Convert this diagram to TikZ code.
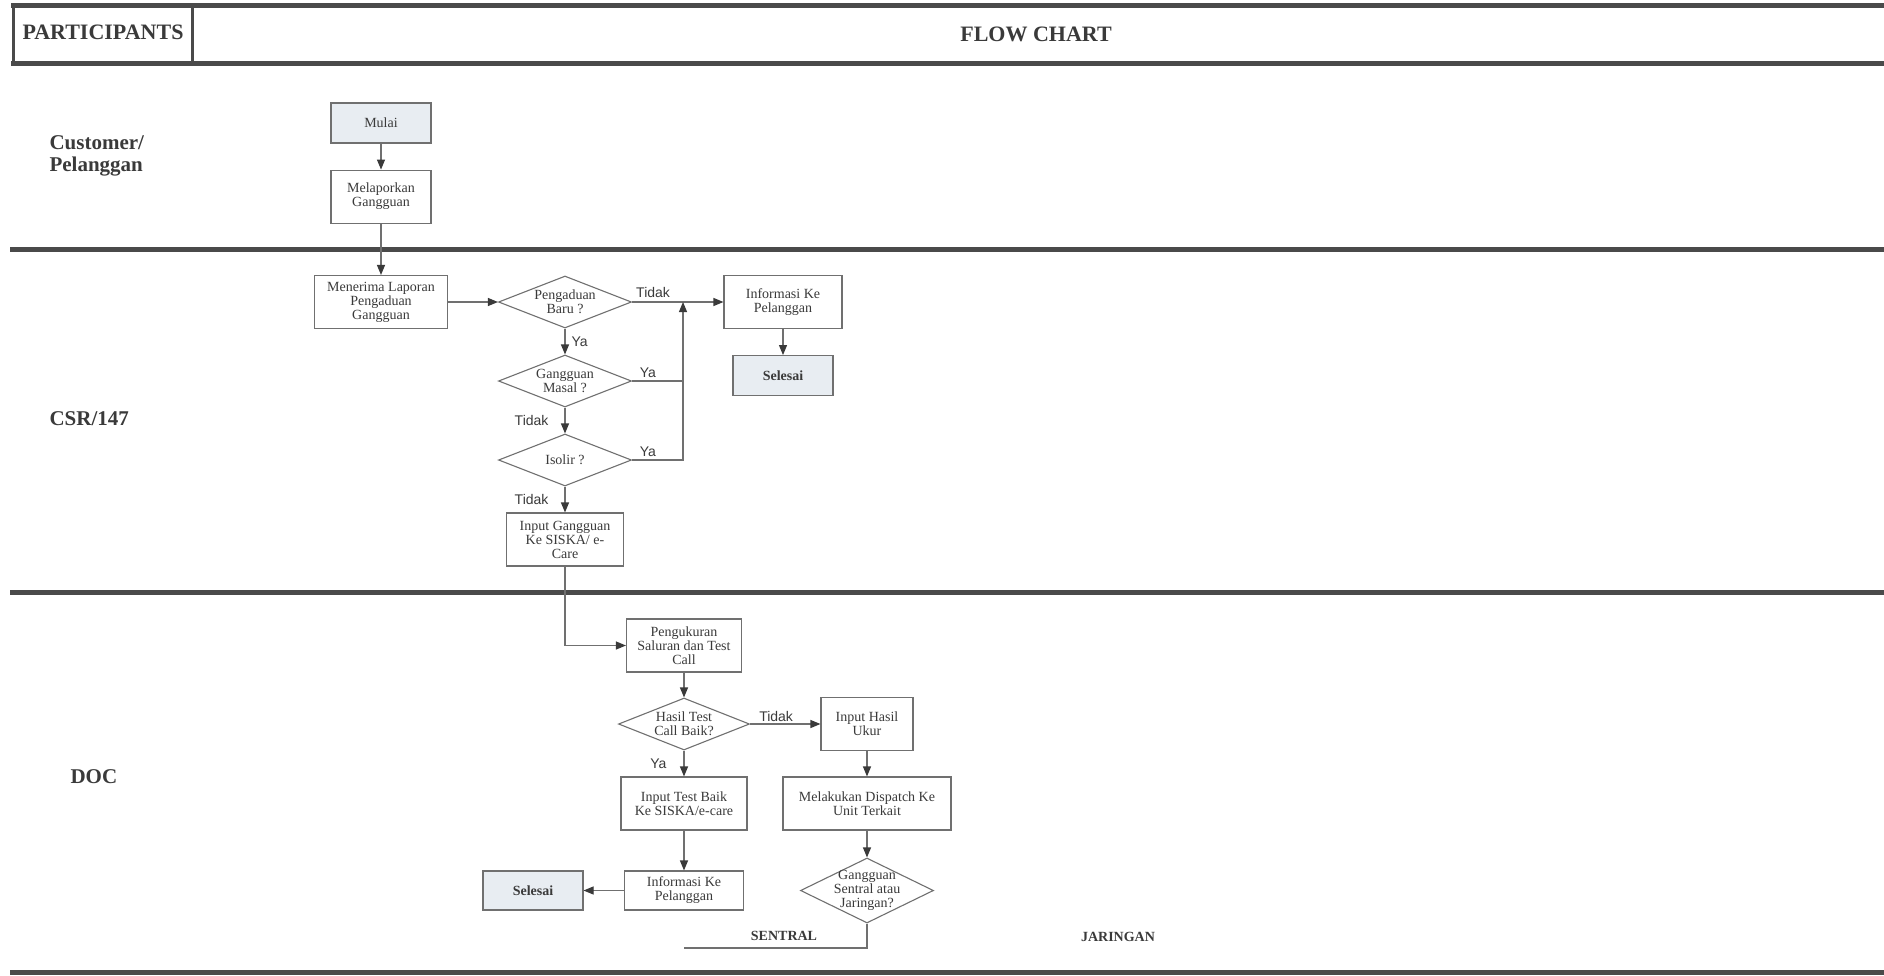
\documentclass[tikz,border=0pt]{standalone}
\usepackage{fontspec}
\setmainfont{Liberation Serif}
\newfontfamily\lblfont{Liberation Sans}
\usepackage{tikz}
\usetikzlibrary{arrows.meta,positioning,shapes.geometric}
\definecolor{fcink}{HTML}{3A3A3A}
\definecolor{fcline}{HTML}{707070}
\definecolor{fcrule}{HTML}{4A4A4A}
\definecolor{fcfill}{HTML}{E8EDF2}

\begin{document}
\begin{tikzpicture}[x=1pt,y=-1pt,
  every node/.style={text=fcink,align=center},
  box/.style={draw=fcline,line width=1.1pt,minimum height=53pt,inner sep=1pt,font=\fontsize{14}{14}\selectfont},
  endbox/.style={box,fill=fcfill,minimum width=100pt,minimum height=40pt},
  dec/.style={diamond,draw=fcline,line width=1.1pt,minimum width=133pt,minimum height=52pt,inner sep=0pt},
  dtext/.style={align=center,inner sep=0pt,text=fcink,font=\fontsize{14}{14}\selectfont},
  arr/.style={draw=fcline,line width=1.1pt,-{Triangle[length=10pt,width=8pt,color=fcink]}},
  conn/.style={draw=fcline,line width=1.1pt},
  lab/.style={font=\lblfont\fontsize{14}{14}\selectfont,inner sep=0pt},
  rule/.style={draw=fcrule,line width=5pt},
  lane/.style={font=\bfseries\fontsize{21}{22}\selectfont,anchor=west,align=left},
  ttl/.style={font=\bfseries\fontsize{22}{22}\selectfont}
]
\fill[white] (0,0) rectangle (1884,975);
\useasboundingbox (0,0) rectangle (1884,975);

\draw[rule] (11,5) -- (1884,5);
\draw[rule] (11,63) -- (1884,63);
\draw[draw=fcrule,line width=3pt] (13,5) -- (13,63) (192,5) -- (192,63);
\node[ttl] (partc) at (103,32) {PARTICIPANTS};
\node[ttl] (flowc) at (1036,34) {FLOW CHART};

\draw[rule] (10,249) -- (1884,249);
\draw[rule] (10,592) -- (1884,592);
\draw[rule] (10,972) -- (1884,972);
\node[lane] (cust) at (46,156) {Customer/\\Pelanggan};
\node[lane] (csr) at (46,419) {CSR/147};
\node[lane] (doc) at (67,777) {DOC};

\node[endbox] (mulai) at (381,123) {Mulai};
\node[box,minimum width=100pt,below=26pt of mulai] (lapor) {Melaporkan\\Gangguan};
\node[box,minimum width=133pt] (terima) at (381,302) {Menerima Laporan\\Pengaduan\\Gangguan};
\node[dec,label={[dtext]center:{Pengaduan\\Baru ?}}] (baru) at (565,302) {};
\node[box,minimum width=118pt] (info1) at (783,302) {Informasi Ke\\Pelanggan};
\node[endbox,font=\bfseries\fontsize{14}{14}\selectfont,below=26pt of info1] (selesai1) {Selesai};
\node[dec,label={[dtext]center:{Gangguan\\Masal ?}}] (masal) at (565,381) {};
\node[dec,label={[dtext]center:{Isolir ?}}] (isolir) at (565,460) {};
\node[box,minimum width=117pt] (inputg) at (565,539.5) {Input Gangguan\\Ke SISKA/ e-\\Care};
\coordinate (jn) at (683,302);

\node[box,minimum width=115pt] (ukur) at (684,645.5) {Pengukuran\\Saluran dan Test\\Call};
\node[dec,minimum width=131pt,label={[dtext]center:{Hasil Test\\Call Baik?}}] (hasil) at (684,724) {};
\node[box,minimum width=92pt] (inhasil) at (867,724) {Input Hasil\\Ukur};
\node[box,minimum width=126pt] (tbaik) at (684,803.5) {Input Test Baik\\Ke SISKA/e-care};
\node[box,minimum width=168pt] (dispatch) at (867,803.5) {Melakukan Dispatch Ke\\Unit Terkait};
\node[box,minimum width=119pt,minimum height=39pt] (info2) at (684,890.5) {Informasi Ke\\Pelanggan};
\node[endbox,minimum height=39pt,font=\bfseries\fontsize{14}{14}\selectfont] (selesai2) at (533,890.5) {Selesai};
\node[dec,minimum height=65pt,label={[dtext]center:{Gangguan\\Sentral atau\\Jaringan?}}] (sentral) at (867,890.5) {};
\coordinate (sntend) at (684,948);
\node[font=\bfseries\fontsize{14}{14}\selectfont] (sntlbl) at (784,936) {SENTRAL};
\node[font=\bfseries\fontsize{14}{14}\selectfont] (jrglbl) at (1118,937) {JARINGAN};

\draw[arr] (mulai) -- (lapor);
\draw[arr] (lapor) -- (terima);
\draw[arr] (terima) -- (baru);
\draw[arr] (baru) -- node[lab,pos=0.23,above=4pt] (tdk1) {Tidak} (info1);
\draw[arr] (baru) -- node[lab,right=6pt] (ya1) {Ya} (masal);
\draw[arr] (masal) -- node[lab,left=16pt] (tdk2) {Tidak} (isolir);
\draw[arr] (isolir) -- node[lab,left=16pt] (tdk3) {Tidak} (inputg);
\draw[conn] (masal.east) -- node[lab,pos=0.31,above=3pt] (ya2) {Ya} (masal.east -| jn);
\draw[arr] (isolir.east) -- node[lab,pos=0.31,above=3pt] (ya3) {Ya} (isolir.east -| jn) -- (jn);
\draw[arr] (info1) -- (selesai1);
\draw[arr] (inputg.south) |- (ukur.west);
\draw[arr] (ukur) -- (hasil);
\draw[arr] (hasil) -- node[lab,pos=0.37,above=2pt] (tdk4) {Tidak} (inhasil);
\draw[arr] (hasil) -- node[lab,left=17pt] (ya4) {Ya} (tbaik);
\draw[arr] (inhasil) -- (dispatch);
\draw[arr] (dispatch) -- (sentral);
\draw[arr] (tbaik) -- (info2);
\draw[arr] (info2) -- (selesai2);
\draw[conn] (sentral.south) |- (sntend);
\end{tikzpicture}
\end{document}
